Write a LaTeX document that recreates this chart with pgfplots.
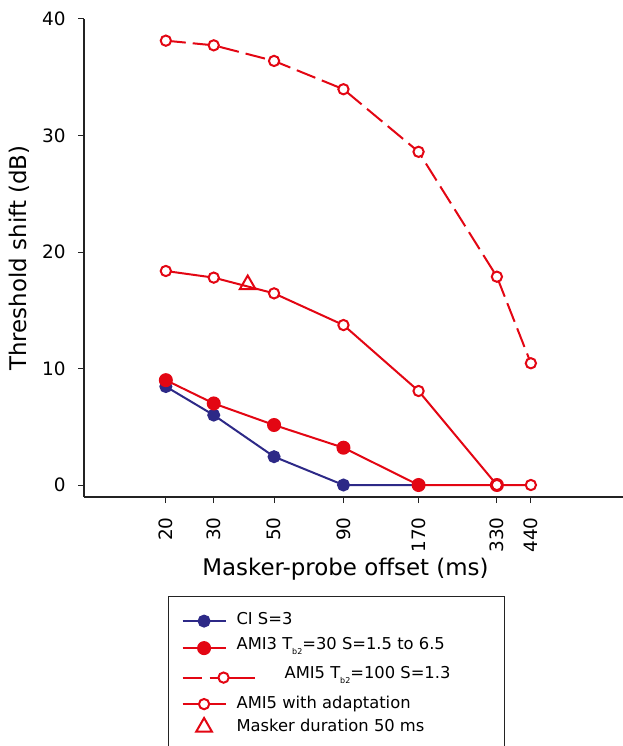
\documentclass[border=0pt]{standalone}
\usepackage{pgfplots}
\pgfplotsset{compat=1.18}
\usepackage{fontspec}
\setmainfont{DejaVu Sans}
\definecolor{myred}{RGB}{227,6,19}
\definecolor{myblue}{RGB}{45,41,135}
\definecolor{axgray}{RGB}{35,35,35}
\newcommand\sub[1]{\raisebox{-5bp}{\fontsize{8}{8}\selectfont #1}}
\pgfplotsset{dashlegend/.style={legend image code/.code={\draw[##1,solid,overlay] (0bp,0bp)--(19bp,0bp) (27bp,0bp)--(72bp,0bp);
     \draw[##1,solid,overlay] plot coordinates {(41bp,0bp)};}},
  trilegend/.style={legend image code/.code={\draw[##1,overlay] plot coordinates {(21.5bp,0bp)};}}}
\begin{document}
\begin{tikzpicture}
\begin{axis}[name=ax,
  xmode=log, scale only axis, width=539bp, height=478bp,
  xmin=10, xmax=960, ymin=-1.03, ymax=40,
  clip=false,
  axis lines=left,
  axis line style={-, line width=2.6bp, color=axgray},
  xtick={20,30,50,90,170,330,440},
  xticklabels={20,30,50,90,170,330,440},
  xminorticks=false, yminorticks=false,
  ytick={0,10,20,30,40},
  tick align=outside, major tick length=6bp,
  tick style={line width=1bp, color=axgray},
  /pgf/number format/assume math mode=true,
  xticklabel shift=11bp,
  x tick label style={rotate=90, anchor=east, font=\fontsize{18.5}{18.5}\selectfont},
  y tick label style={font=\fontsize{18.5}{18.5}\selectfont, xshift=-9bp},
  xlabel={Masker-probe offset (ms)},
  ylabel={Threshold shift (dB)},
  label style={font=\fontsize{23}{23}\selectfont},
  xlabel style={at={(axis description cs:0.485,-0.1632)}, anchor=base, inner sep=0pt},
  ylabel style={at={(axis description cs:-0.1063,0.5)}, anchor=base, inner sep=0pt},
  legend cell align=left,
  legend style={at={(axis description cs:0.1558,-0.2071)}, anchor=north west,
    draw=axgray, line width=1.2bp, inner xsep=13bp, inner ysep=16bp,
    row sep=8bp, column sep=10bp, font=\fontsize{16.4}{16.4}\selectfont,
    nodes={inner sep=0pt, text height=12bp, text depth=3bp}},
  legend image code/.code={\draw[mark repeat=2,mark phase=2,#1] plot coordinates {(0bp,0bp) (21.5bp,0bp) (43bp,0bp)};},
]
\addplot[myblue, line width=2bp, mark=*, mark size=5.5bp, mark options={solid, fill=myblue, draw=myblue}]
  coordinates {(20,8.45) (30,6.0) (50,2.43) (90,0) (170,0)};
\addlegendentry[text depth=5bp]{CI S=3}
\addplot[myred, line width=2bp, mark=*, mark size=6.0bp, mark options={solid, fill=myred, draw=myred}]
  coordinates {(20,9.0) (30,7.0) (50,5.15) (90,3.2) (170,0) (330,0)};
\addlegendentry[text depth=9bp]{AMI3 T\sub{b2}=30 S=1.5 to 6.5\hspace*{47bp}}
\addplot[myred, line width=2bp, dash pattern=on 20bp off 7bp, mark=*, mark size=5.15bp,
  mark options={solid, fill=white, draw=myred}, dashlegend]
  coordinates {(20,38.14) (30,37.74) (50,36.4) (90,33.97) (170,28.6) (330,17.88) (440,10.45)};
\addlegendentry[text depth=10bp]{\hspace*{48bp}AMI5 T\sub{b2}=100 S=1.3}
\addplot[myred, line width=2bp, mark=*, mark size=5.15bp, mark options={solid, fill=white, draw=myred}]
  coordinates {(20,18.37) (30,17.8) (50,16.45) (90,13.73) (170,8.07) (330,0) (440,0)};
\addlegendentry{AMI5 with adaptation}
\addplot[myred, only marks, mark=triangle, mark size=9.1bp, mark options={line width=2bp, fill=white}, trilegend]
  coordinates {(40,17.2)};
\addlegendentry{Masker duration 50 ms}
\end{axis}
\pgfresetboundingbox
\path[use as bounding box] ([xshift=-84bp,yshift=-249bp]ax.south west) rectangle ([yshift=19bp]ax.north east);
\end{tikzpicture}
\end{document}
